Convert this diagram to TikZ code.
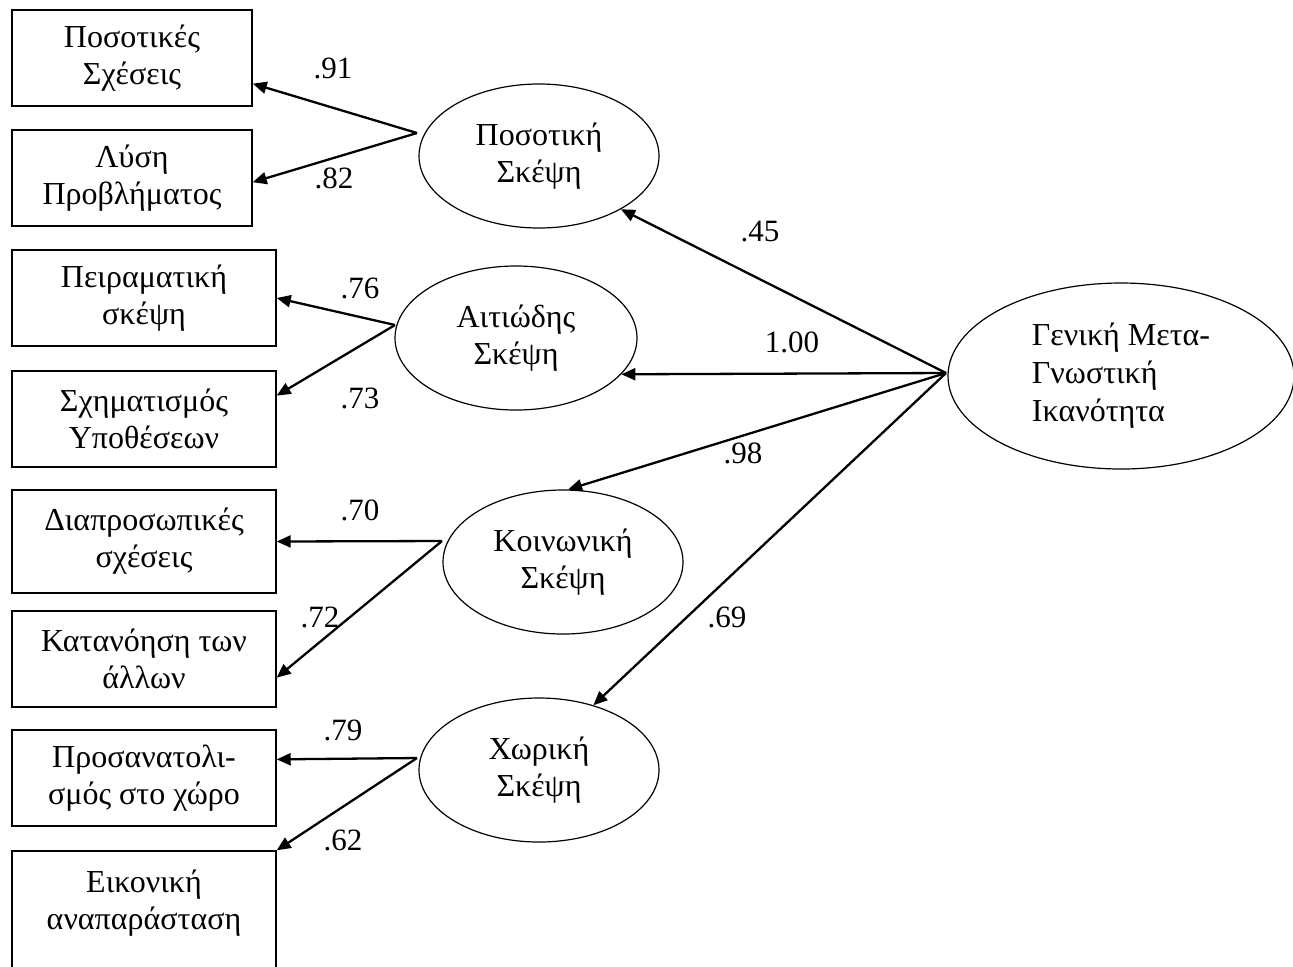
\documentclass[tikz,border=0pt]{standalone}
\usepackage{fontspec}
\setmainfont{Liberation Serif}
\usetikzlibrary{arrows,arrows.meta,shapes}
\tikzset{
  semnode/.style = {align=center, inner sep=0pt, text centered,
    font=\fontsize{16}{18.5}\selectfont},
  obs/.style = {semnode, rectangle, draw=black, line width=0.7pt,
    minimum width=132pt, minimum height=48pt},% observed variable
  obs_s/.style = {obs, minimum width=120pt},% narrower box (first factor)
  lat/.style = {semnode, ellipse, draw=black, line width=0.6pt,
    minimum width=120pt, minimum height=72pt},% latent factor
  weight/.style = {semnode, font=\fontsize{15.5}{16}\selectfont}% loading
}

\begin{document}
\begin{tikzpicture}[x=0.5pt,y=-0.5pt,->,>={Triangle[length=7pt,width=6pt]},line width=1.15pt]
\useasboundingbox (0,0) rectangle (1293,966);
% observed variables
\node [obs_s] (pss) at (132,58) {Ποσοτικές\\Σχέσεις};
\node [obs_s] (lp) at (132,178) {Λύση\\Προβλήματος};
\node [obs] (ps) at (144,298) {Πειραματική\\σκέψη};
\node [obs] (sy) at (144,419) {Σχηματισμός\\Υποθέσεων};
\node [obs, minimum height=51.5pt] (ds) at (144,541.5) {Διαπροσωπικές\\σχέσεις};
\node [obs] (ka) at (144,659) {Κατανόηση των\\άλλων};
\node [obs] (px) at (144,778) {Προσανατολι-\\σμός στο χώρο};
\node [obs, minimum height=67pt] (ea) at (144,918) {Εικονική\\αναπαράσταση\\~};
% first order factors
\node [lat] (poss) at (539,156) {Ποσοτική\\Σκέψη};
\node [lat, minimum width=121pt] (aits) at (516,338) {Αιτιώδης\\Σκέψη};
\node [lat] (koin) at (563,562) {Κοινωνική\\Σκέψη};
\node [lat] (xor) at (539,770) {Χωρική\\Σκέψη};
% second order factor
\node [lat, align=left, minimum width=173pt, minimum height=93pt,
  font=\fontsize{16}{19}\selectfont] (gen) at (1121,376)
  {Γενική Μετα-\\Γνωστική\\Ικανότητα};
\coordinate (poss_o) at (417,133);
\coordinate (aits_o) at (395,325);
\coordinate (koin_o) at (442,541);
\coordinate (xor_o) at (417,758);
\coordinate (gen_o) at (946,373);

\draw (poss_o) -- (pss.-12.7);
\draw (poss_o) -- (lp.-2);
\draw (aits_o) -- (ps.east);
\draw (aits_o) -- (sy.10.3);
\draw (koin_o) -- (ds.east);
\draw (koin_o) -- (ka.-8.6);
\draw (xor_o) -- (px.8.6);
\draw (xor_o) -- (ea.north east);

\draw (gen_o) -- (poss.-33);
\draw (gen_o) -- (aits.-19);
\draw (gen_o) -- (koin.86);
\draw (gen_o) -- (xor.50);

% loadings
\node [weight] (w91) at (333,68) {.91};
\node [weight] (w82) at (334,178) {.82};
\node [weight] (w76) at (360,288) {.76};
\node [weight] (w73) at (360,398) {.73};
\node [weight] (w70) at (360,510) {.70};
\node [weight] (w72) at (320,617) {.72};
\node [weight] (w79) at (343,730) {.79};
\node [weight] (w62) at (343,840) {.62};
\node [weight] (w45) at (760,232) {.45};
\node [weight] (w100) at (792,342) {1.00};
\node [weight] (w98) at (743,453) {.98};
\node [weight] (w69) at (727,617) {.69};
\end{tikzpicture}
\end{document}
